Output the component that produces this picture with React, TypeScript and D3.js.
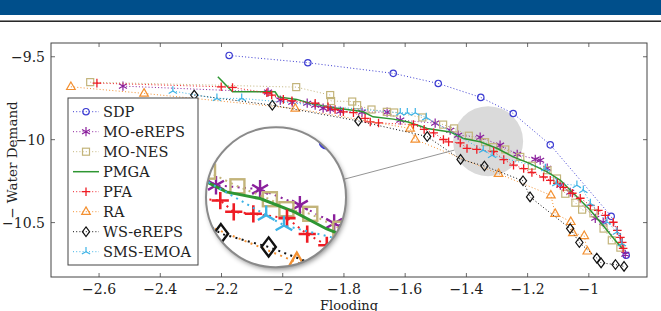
import React, { useEffect } from "react";
import * as d3 from "d3";

// Pareto fronts: flooding vs. negative water demand
type Pt = [number, number];

const xTicks = [-2.6, -2.4, -2.2, -2, -1.8, -1.6, -1.4, -1.2, -1];
const yTicks = [-9.5, -10, -10.5];

const sdp: Pt[] = [
  [-2.175, -9.492], [-1.918, -9.536], [-1.639, -9.6], [-1.492, -9.661], [-1.353, -9.745],
  [-1.247, -9.842], [-1.126, -10.031], [-0.927, -10.462], [-0.878, -10.697],
];

const moEreps: Pt[] = [
  [-2.522, -9.677], [-2.048, -9.713], [-2.008, -9.761], [-1.969, -9.774], [-1.92, -9.78],
  [-1.894, -9.792], [-1.868, -9.81], [-1.845, -9.816], [-1.812, -9.828], [-1.741, -9.834],
  [-1.659, -9.834], [-1.616, -9.882], [-1.502, -9.9], [-1.453, -9.943], [-1.427, -9.973],
  [-1.355, -9.985], [-1.29, -10.033], [-1.234, -10.088], [-1.175, -10.118], [-1.159, -10.124],
  [-1.136, -10.172], [-1.093, -10.274], [-1.061, -10.317], [-0.979, -10.474], [-0.953, -10.498],
  [-0.881, -10.691],
];

const moNes: Pt[] = [
  [-2.629, -9.653], [-1.956, -9.683], [-1.845, -9.731], [-1.842, -9.767], [-1.773, -9.77],
  [-1.757, -9.792], [-1.71, -9.818], [-1.66, -9.832], [-1.636, -9.836], [-1.544, -9.866],
  [-1.476, -9.909], [-1.44, -9.932], [-1.392, -9.976], [-1.339, -10.015], [-1.312, -10.045],
  [-1.273, -10.059], [-1.224, -10.104], [-1.186, -10.157], [-1.135, -10.184], [-1.104, -10.234],
  [-1.077, -10.326], [-1.044, -10.38], [-1.022, -10.422], [-0.985, -10.444], [-0.952, -10.536],
  [-0.925, -10.607], [-0.897, -10.651],
];

const pmga: Pt[] = [
  [-2.212, -9.621], [-2.164, -9.711], [-2.025, -9.711], [-2.014, -9.742], [-1.954, -9.757],
  [-1.91, -9.781], [-1.835, -9.808], [-1.77, -9.822], [-1.737, -9.832], [-1.705, -9.862],
  [-1.639, -9.876], [-1.59, -9.893], [-1.528, -9.932], [-1.453, -9.953], [-1.41, -9.993],
  [-1.355, -10.013], [-1.299, -10.053], [-1.247, -10.104], [-1.192, -10.144], [-1.136, -10.194],
  [-1.093, -10.245], [-1.044, -10.335], [-0.995, -10.426], [-0.946, -10.534], [-0.914, -10.607],
  [-0.891, -10.655],
];

const pfa: Pt[] = [
  [-2.607, -9.659], [-2.201, -9.681], [-2.164, -9.685], [-2.052, -9.717], [-2.036, -9.731],
  [-1.998, -9.757], [-1.97, -9.766], [-1.894, -9.78], [-1.852, -9.802], [-1.829, -9.818],
  [-1.802, -9.832], [-1.769, -9.837], [-1.731, -9.872], [-1.714, -9.893], [-1.687, -9.899],
  [-1.573, -9.909], [-1.538, -9.938], [-1.507, -9.959], [-1.475, -9.999], [-1.458, -10.013],
  [-1.42, -10.019], [-1.398, -10.053], [-1.366, -10.059], [-1.311, -10.072], [-1.278, -10.12],
  [-1.246, -10.154], [-1.213, -10.174], [-1.186, -10.198], [-1.148, -10.225], [-1.126, -10.245],
  [-1.103, -10.263], [-1.083, -10.287], [-1.054, -10.323], [-1.028, -10.353], [-0.995, -10.396],
  [-0.969, -10.426], [-0.946, -10.456], [-0.92, -10.498], [-0.907, -10.547], [-0.897, -10.589],
  [-0.891, -10.619], [-0.888, -10.655],
];

const ra: Pt[] = [
  [-2.692, -9.681], [-2.453, -9.721], [-1.959, -9.812], [-1.584, -9.932], [-1.567, -9.999],
  [-1.295, -10.205], [-1.124, -10.335], [-1.11, -10.446], [-1.059, -10.495], [-1.052, -10.562],
  [-1.015, -10.58], [-1.005, -10.673],
];

const wsEreps: Pt[] = [
  [-2.289, -9.731], [-2.034, -9.792], [-1.753, -9.887], [-1.528, -9.981], [-1.419, -10.119],
  [-1.341, -10.159], [-1.215, -10.248], [-1.192, -10.345], [-1.061, -10.536], [-1.031, -10.62],
  [-0.974, -10.714], [-0.96, -10.743], [-0.913, -10.753], [-0.885, -10.764],
];

const smsEmoa: Pt[] = [
  [-2.359, -9.707], [-2.215, -9.751], [-2.134, -9.751], [-1.616, -9.838], [-1.593, -9.838],
  [-1.567, -9.838], [-1.531, -9.867], [-1.345, -10.063], [-1.316, -10.094], [-1.142, -10.174],
  [-1.106, -10.264], [-1.039, -10.275], [-1.018, -10.305], [-0.995, -10.385], [-0.941, -10.496],
  [-0.908, -10.557], [-0.892, -10.627],
];

type Mark = "circle" | "asterisk" | "square" | "none" | "plus" | "triangle" | "diamond" | "tri";

const series: { name: string; data: Pt[]; color: string; mark: Mark; solid?: boolean }[] = [
  { name: "SDP", data: sdp, color: "#3c3cd2", mark: "circle" },
  { name: "MO-eREPS", data: moEreps, color: "#8a1f9c", mark: "asterisk" },
  { name: "MO-NES", data: moNes, color: "#c3b47a", mark: "square" },
  { name: "PMGA", data: pmga, color: "#2e9632", mark: "none", solid: true },
  { name: "PFA", data: pfa, color: "#ee1c24", mark: "plus" },
  { name: "RA", data: ra, color: "#f39031", mark: "triangle" },
  { name: "WS-eREPS", data: wsEreps, color: "#111111", mark: "diamond" },
  { name: "SMS-EMOA", data: smsEmoa, color: "#3db3e6", mark: "tri" },
];

// zoom lens: focus point in data space, where the lens sits, and magnification
const lensFocus: Pt = [-1.329, -10.009];
const lensAt: Pt = [-2.022, -10.347];
const lensScale = 2;
const lensR = 35;

const W = 661;
const H = 311;
const plot = { left: 51, right: 647, top: 43, bottom: 277 };
const font = "'DejaVu Serif', serif";

const x = d3.scaleLinear().domain([-2.757, -0.81]).range([plot.left, plot.right]);
const y = d3.scaleLinear().domain([-10.828, -9.417]).range([plot.bottom, plot.top]);

const fmt = (v: number) => String(v).replace("-", "\u2212");

function marker(m: Mark, cx: number, cy: number, color: string, key: string) {
  const t = `translate(${cx},${cy})`;
  const common = { fill: "none", stroke: color, strokeWidth: 1.2, transform: t, key };
  switch (m) {
    case "circle":
      return <circle {...common} r={3.2} />;
    case "asterisk": {
      const r = 4.6, a = r * 0.866, b = r * 0.5;
      return <path {...common} d={`M0,${-r}V${r}M${-a},${-b}L${a},${b}M${-a},${b}L${a},${-b}`} />;
    }
    case "square":
      return <rect {...common} x={-3.5} y={-3.5} width={7} height={7} />;
    case "plus":
      return <path {...common} strokeWidth={1.3} d="M-4.3,0H4.3M0,-4.3V4.3" />;
    case "triangle":
      return <path {...common} d="M0,-4.8L4.3,2.7L-4.3,2.7Z" />;
    case "diamond":
      return <path {...common} d="M0,-4.8L3.6,0L0,4.8L-3.6,0Z" />;
    case "tri": {
      const r = 4.8;
      return <path {...common} d={`M0,0V${-r}M0,0L${-r * 0.866},${r * 0.5}M0,0L${r * 0.866},${r * 0.5}`} />;
    }
    default:
      return null;
  }
}

const line = d3.line<Pt>().x((d) => x(d[0])).y((d) => y(d[1]));

function Fronts({ prefix }: { prefix: string }) {
  return (
    <g>
      {series.map((s) => (
        <g key={prefix + s.name}>
          <path
            d={line(s.data) ?? ""}
            fill="none"
            stroke={s.color}
            strokeWidth={s.solid ? 1.5 : 1}
            strokeDasharray={s.solid ? undefined : "1 2.2"}
          />
          {s.data.map((d, i) => marker(s.mark, x(d[0]), y(d[1]), s.color, `${prefix}${s.name}${i}`))}
        </g>
      ))}
    </g>
  );
}

export default function App() {
  useEffect(() => {
    document.body.style.margin = "0";
  }, []);

  const fx = x(lensFocus[0]);
  const fy = y(lensFocus[1]);
  const lx = x(lensAt[0]);
  const ly = y(lensAt[1]);
  const bigR = lensR * lensScale;
  const ang = Math.atan2(fy - ly, fx - lx);

  const legendX = 68;
  const legendY = 98;
  const rowH = 20;

  return (
    <svg width={W} height={H} style={{ display: "block" }} fontFamily={font}>
      <defs>
        <clipPath id="lensClip">
          <circle cx={lx} cy={ly} r={bigR} />
        </clipPath>
        <filter id="lensShadow" x="-20%" y="-20%" width="140%" height="140%">
          <feDropShadow dx={1.5} dy={2.5} stdDeviation={2.5} floodColor="#000" floodOpacity={0.45} />
        </filter>
      </defs>

      {/* slide header */}
      <rect x={0} y={0} width={W} height={15} fill="#004f8b" />
      <rect x={0} y={20.5} width={W} height={1.4} fill="#111" />

      {/* focus disk behind the data */}
      <circle cx={fx} cy={fy} r={lensR} fill="#dadada" />

      <Fronts prefix="main" />

      {/* connector from lens to focus */}
      <line
        x1={lx + bigR * Math.cos(ang)}
        y1={ly + bigR * Math.sin(ang)}
        x2={fx - lensR * Math.cos(ang)}
        y2={fy - lensR * Math.sin(ang)}
        stroke="#888"
        strokeWidth={0.9}
      />

      {/* magnified lens */}
      <circle cx={lx} cy={ly} r={bigR} fill="#fff" filter="url(#lensShadow)" />
      <g clipPath="url(#lensClip)">
        <g transform={`translate(${lx},${ly}) scale(${lensScale}) translate(${-fx},${-fy})`}>
          <Fronts prefix="lens" />
        </g>
      </g>
      <circle cx={lx} cy={ly} r={bigR} fill="none" stroke="#8a8a8a" strokeWidth={2} />

      {/* frame and ticks */}
      <rect
        x={plot.left}
        y={plot.top}
        width={plot.right - plot.left}
        height={plot.bottom - plot.top}
        fill="none"
        stroke="#444"
        strokeWidth={1}
      />
      {xTicks.map((t) => (
        <g key={"x" + t} stroke="#444" strokeWidth={0.8}>
          <line x1={x(t)} x2={x(t)} y1={plot.bottom} y2={plot.bottom - 4} />
          <line x1={x(t)} x2={x(t)} y1={plot.top} y2={plot.top + 4} />
        </g>
      ))}
      {yTicks.map((t) => (
        <g key={"y" + t} stroke="#444" strokeWidth={0.8}>
          <line x1={plot.left} x2={plot.left + 4} y1={y(t)} y2={y(t)} />
          <line x1={plot.right} x2={plot.right - 4} y1={y(t)} y2={y(t)} />
        </g>
      ))}
      {xTicks.map((t) => (
        <text key={"xl" + t} x={x(t)} y={294} textAnchor="middle" fontSize={14} fill="#222">
          {fmt(t)}
        </text>
      ))}
      {yTicks.map((t) => (
        <text key={"yl" + t} x={45} y={y(t) + 5} textAnchor="end" fontSize={14} fill="#222">
          {fmt(t)}
        </text>
      ))}

      <text x={(plot.left + plot.right) / 2} y={309.5} textAnchor="middle" fontSize={13} fill="#222">
        Flooding
      </text>
      <text
        transform={`translate(17,${(plot.top + plot.bottom) / 2}) rotate(-90)`}
        textAnchor="middle"
        fontSize={13.5}
        fill="#222"
      >
        {"\u2212 Water Demand"}
      </text>

      {/* legend */}
      <rect x={legendX} y={legendY} width={130} height={167} fill="#fff" stroke="#444" strokeWidth={1} />
      {series.map((s, i) => {
        const cy = legendY + 13.7 + i * rowH;
        return (
          <g key={"lg" + s.name}>
            <line
              x1={legendX + 5}
              x2={legendX + 31}
              y1={cy}
              y2={cy}
              stroke={s.color}
              strokeWidth={s.solid ? 1.5 : 1}
              strokeDasharray={s.solid ? undefined : "1 2.2"}
            />
            {marker(s.mark, legendX + 18, cy, s.color, "lgm" + s.name)}
            <text x={legendX + 35} y={cy + 5} fontSize={14.5} fill="#222">
              {s.name}
            </text>
          </g>
        );
      })}
    </svg>
  );
}
